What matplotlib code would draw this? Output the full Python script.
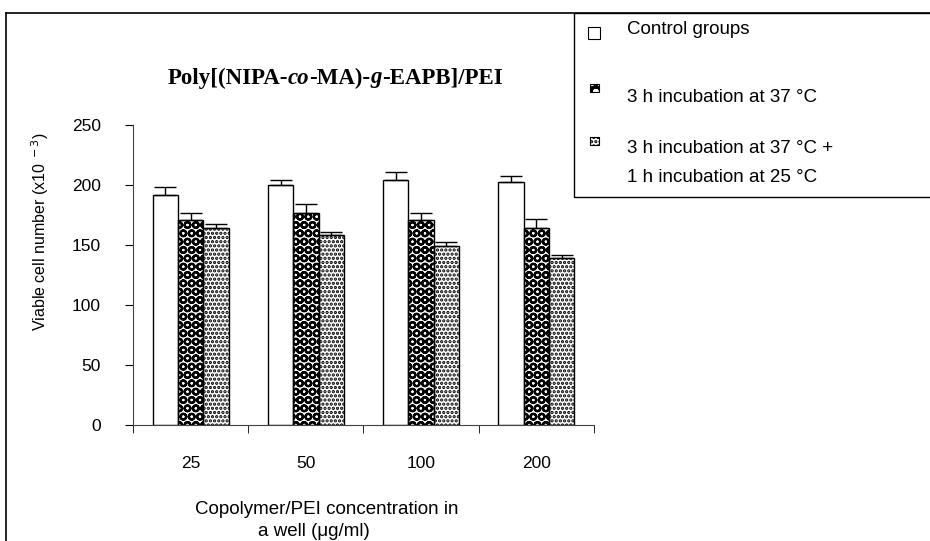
import numpy as np
import matplotlib
matplotlib.use('Agg')
import matplotlib.pyplot as plt
from matplotlib.patches import Rectangle
from matplotlib.lines import Line2D

plt.rcParams['font.family'] = ['Liberation Sans', 'DejaVu Sans']
plt.rcParams['hatch.linewidth'] = 1.6

#==================
# Data
concentrations = ['25', '50', '100', '200']
legendLines = ['Control groups', '3 h incubation at 37 \u00b0C',
               '3 h incubation at 37 \u00b0C +', '1 h incubation at 25 \u00b0C']
control = [191.7, 200.0, 204.2, 202.2]
controlErr = [6.9, 4.0, 6.4, 5.3]
incub37 = [170.8, 176.9, 170.8, 164.4]
incub37Err = [5.6, 7.1, 5.6, 7.3]
incub37_25 = [163.9, 158.3, 149.4, 138.9]
incub37_25Err = [3.6, 2.7, 3.4, 2.8]

#==================
# Figure and axes
fig = plt.figure(figsize=(9.3, 5.41), dpi=100, facecolor='w')
ax = fig.add_axes([0.143, 0.2144, 0.4957, 0.5546])

x = np.arange(len(concentrations)) + 0.5
w = 0.22

def drawBars(pos, vals, errs, face, hatch, hatchCol):
	zeros = [0] * len(vals)
	ax.bar(pos, vals, w, color=face, edgecolor=hatchCol, hatch=hatch, linewidth=0, zorder=2)
	ax.bar(pos, vals, w, fill=False, edgecolor='k', linewidth=1.0, zorder=3)
	ax.errorbar(pos, vals, yerr=[zeros, errs], fmt='none', ecolor='k',
				elinewidth=1.0, capsize=8, capthick=1.0, zorder=4)

drawBars(x - w, control, controlErr, 'white', None, 'k')
drawBars(x, incub37, incub37Err, 'white', 'OO', 'black')
drawBars(x + w, incub37_25, incub37_25Err, 'white', '....', 'black')

ax.set_xlim(0, 4)
ax.set_ylim(0, 250)
ax.set_yticks([0, 50, 100, 150, 200, 250])
ax.set_xticks(x)
ax.set_xticklabels(concentrations)
ax.set_xticks(np.arange(0, 5), minor=True)
ax.tick_params(axis='x', which='major', length=0, pad=22, labelsize=12.5)
ax.tick_params(axis='x', which='minor', length=6, direction='out')
ax.tick_params(axis='y', length=6, direction='out', pad=17, labelsize=12.5)
for s in ['top', 'right']:
	ax.spines[s].set_visible(False)
ax.spines['left'].set_color('#444444')
ax.spines['bottom'].set_color('#444444')

fig.text(40 / 930, 1 - 232 / 541, 'Viable cell number (x10$^{\\ -3}$)', rotation=90,
		 ha='center', va='center', fontsize=11.5)
fig.text(327 / 930, 1 - 509 / 541, 'Copolymer/PEI concentration in',
		 ha='center', va='center', fontsize=13.5)
fig.text(314 / 930, 1 - 532 / 541, 'a well (\u03bcg/ml)',
		 ha='center', va='center', fontsize=13.5)

#==================
# Title with italic pieces
pieces = [('Poly[(NIPA-', 'normal'), ('co', 'italic'), ('-MA)-', 'normal'),
		  ('g', 'italic'), ('-EAPB]/PEI', 'normal')]
renderer = fig.canvas.get_renderer()
texts = []
total = 0
for s, st in pieces:
	t = fig.text(0, 0, s, family='Liberation Serif', weight='bold', style=st,
				 fontsize=16.5, va='center', ha='left')
	bb = t.get_window_extent(renderer)
	texts.append((t, bb.width))
	total += bb.width
cx = 335
cur = cx - total / 2
for t, wd in texts:
	t.set_position((cur / 930, 1 - 78 / 541))
	cur += wd

#==================
# Outer frame and legend box
fig.add_artist(Line2D([6 / 930, 6 / 930], [0, 1 - 13 / 541], color='k', lw=1.2, transform=fig.transFigure))
fig.add_artist(Line2D([6 / 930, 1], [1 - 13 / 541, 1 - 13 / 541], color='k', lw=1.2, transform=fig.transFigure))
fig.add_artist(Rectangle((574 / 930, 1 - 197 / 541), 0.5, (197 - 13) / 541, fill=True,
						 facecolor='w', edgecolor='k', lw=1.0, transform=fig.transFigure))

markY = [33, 88, 141]
markers = [('white', None, 'k', 12, 11), ('black', 'oo', 'white', 9, 8), ('white', '....', 'k', 9, 8)]
for yy, (fc, h, hc, mw, mh) in zip(markY, markers):
	mx = 594
	fig.add_artist(Rectangle(((mx - mw / 2) / 930, 1 - (yy + mh / 2) / 541), mw / 930, mh / 541,
							 facecolor=fc, hatch=h, edgecolor=hc, lw=0, transform=fig.transFigure))
	fig.add_artist(Rectangle(((mx - mw / 2) / 930, 1 - (yy + mh / 2) / 541), mw / 930, mh / 541,
							 fill=False, edgecolor='k', lw=0.8, transform=fig.transFigure))
textY = [30, 97, 149, 178]
for yy, line in zip(textY, legendLines):
	fig.text(627 / 930, 1 - yy / 541, line, ha='left', va='center', fontsize=13.5)

fig.savefig('out.png', dpi=100, facecolor='w')
